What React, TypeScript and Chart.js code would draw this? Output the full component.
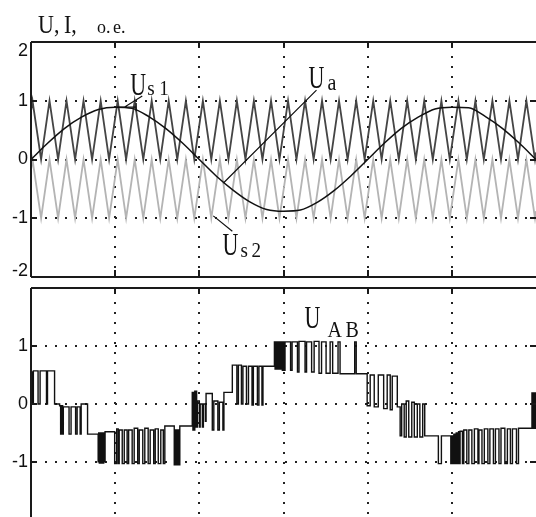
import React, { useEffect, useRef } from "react";
import { Chart, registerables } from "chart.js";

Chart.register(...registerables);

// ---------------- data (time in ms, values in o.e.) ----------------
const xGridTicks = [5, 10, 15, 20, 25];
const topYTicks = [2, 1, 0, -1, -2];
const topGridY = [1, 0, -1];
const bottomYTicks = [1, 0, -1];

// triangular carriers (vertex times, ms)
const carrierTimes = [0, 0.09, 0.60, 1.10, 1.61, 2.11, 2.62, 3.12, 3.63, 4.14, 4.64, 5.15, 5.65, 6.16, 6.67, 7.17, 7.68, 8.18, 8.69, 9.20, 9.70, 10.21, 10.71, 11.22, 11.73, 12.23, 12.74, 13.24, 13.75, 14.26, 14.76, 15.27, 15.77, 16.28, 16.79, 17.29, 17.80, 18.30, 18.81, 19.32, 19.82, 20.33, 20.83, 21.34, 21.85, 22.35, 22.86, 23.36, 23.87, 24.38, 24.88, 25.39, 25.89, 26.40, 26.90, 27.41, 27.92, 28.42, 28.93, 29.43, 29.94, 30];
const us1Values = [0.82, 1, 0, 1, 0, 1, 0, 1, 0, 1, 0, 1, 0, 1, 0, 1, 0, 1, 0, 1, 0, 1, 0, 1, 0, 1, 0, 1, 0, 1, 0, 1, 0, 1, 0, 1, 0, 1, 0, 1, 0, 1, 0, 1, 0, 1, 0, 1, 0, 1, 0, 1, 0, 1, 0, 1, 0, 1, 0, 1, 0, 0.12];
const us2Values = [-0.18, 0, -1, 0, -1, 0, -1, 0, -1, 0, -1, 0, -1, 0, -1, 0, -1, 0, -1, 0, -1, 0, -1, 0, -1, 0, -1, 0, -1, 0, -1, 0, -1, 0, -1, 0, -1, 0, -1, 0, -1, 0, -1, 0, -1, 0, -1, 0, -1, 0, -1, 0, -1, 0, -1, 0, -1, 0, -1, 0, -1, -0.88];

// reference voltage Ua
const uaTimes = [0, 1, 2, 3, 4, 5, 6, 7, 8, 9, 10, 11, 12, 13, 14, 15, 16, 17, 18, 19, 20, 21, 22, 23, 24, 25, 26, 27, 28, 29, 30];
const uaValues = [0, 0.28, 0.53, 0.72, 0.85, 0.89, 0.87, 0.73, 0.53, 0.28, 0.0, -0.28, -0.52, -0.72, -0.85, -0.88, -0.86, -0.73, -0.53, -0.28, 0.0, 0.28, 0.53, 0.72, 0.86, 0.89, 0.88, 0.73, 0.53, 0.28, 0.0];

// line voltage UAB (step breakpoints: value holds from time until next time)
const uabTimes = [
  0.00, 0.04, 0.07, 0.11, 0.14, 0.42, 0.54, 0.92, 0.98, 1.40,
  1.70, 1.76, 1.79, 1.82, 1.85, 1.88, 1.92, 2.26, 2.38, 2.65, 2.74, 2.92, 2.98, 3.36,
  3.99, 4.02, 4.06, 4.10, 4.13, 4.17, 4.20, 4.24, 4.27, 4.32, 4.36, 4.40,
  4.97, 5.09, 5.18, 5.24, 5.42, 5.54, 5.71, 5.80, 6.01, 6.13, 6.34, 6.43, 6.64, 6.76, 6.96, 7.08, 7.29, 7.38, 7.56, 7.71, 7.86, 7.95,
  8.51, 8.55, 8.58, 8.62, 8.65, 8.69, 8.73, 8.76, 8.80, 8.84,
  9.58, 9.62, 9.65, 9.69, 9.73, 9.76, 9.80, 9.84, 9.88, 10.00, 10.05, 10.18, 10.24, 10.36, 10.40, 10.77, 10.86, 11.10, 11.19, 11.40, 11.46,
  11.96, 12.23, 12.32, 12.50, 12.59, 12.80, 12.92, 13.13, 13.21, 13.45, 13.54, 13.72, 13.78,
  14.46, 14.50, 14.54, 14.57, 14.61, 14.64, 14.68, 14.71, 14.75, 14.79, 14.82, 14.86, 14.89, 14.93, 14.97, 15.01,
  15.09, 15.42, 15.51, 15.83, 15.92, 16.28, 16.37, 16.67, 16.82, 17.11, 17.26, 17.53, 17.77, 17.92, 18.24, 18.36, 19.23, 19.32,
  19.97, 20.15, 20.39, 20.63, 20.95, 21.16, 21.34, 21.46, 21.76,
  21.93, 22.02, 22.17, 22.29, 22.44, 22.62, 22.77, 22.95, 23.10, 23.27, 23.39, 24.20, 24.38,
  24.94, 24.98, 25.01, 25.05, 25.08, 25.12, 25.15, 25.19, 25.23, 25.26, 25.30, 25.33, 25.37, 25.40, 25.44, 25.49,
  25.63, 25.71, 25.89, 26.01, 26.19, 26.34, 26.55, 26.61, 26.79, 26.93, 27.14, 27.26, 27.47, 27.59, 27.80, 27.92, 28.15, 28.30, 28.48, 28.60, 28.84, 28.96,
  29.76, 29.80, 29.83, 29.87, 29.90, 29.94, 29.98, 30.00,
];
const uabValues = [
  0.55, 0, 0.55, 0, 0.57, 0, 0.57, 0, 0.57, 0,
  -0.03, -0.52, -0.03, -0.52, -0.03, -0.52, -0.05, -0.52, -0.05, -0.52, -0.05, -0.52, 0.0, -0.52,
  -1.0, -0.5, -1.02, -0.5, -1.02, -0.5, -1.02, -0.5, -1.02, -0.5, -1.0, -0.48,
  -1.03, -0.43, -1.03, -0.45, -1.03, -0.45, -1.03, -0.45, -1.03, -0.42, -1.03, -0.45, -1.03, -0.42, -1.03, -0.45, -1.03, -0.43, -1.03, -0.45, -1.03, -0.38,
  -1.05, -0.45, -1.05, -0.45, -1.05, -0.45, -1.05, -0.45, -1.05, -0.38,
  0.2, -0.45, 0.2, -0.45, 0.22, -0.4, 0.22, -0.4, 0.05, -0.4, 0.0, -0.4, 0.0, -0.3, 0.18, -0.45, 0.05, -0.45, 0.03, -0.45, 0.2,
  0.67, 0.0, 0.67, 0.0, 0.65, 0.0, 0.65, -0.02, 0.65, -0.02, 0.65, -0.02, 0.65,
  1.07, 0.6, 1.07, 0.6, 1.07, 0.6, 1.07, 0.6, 1.07, 0.6, 1.07, 0.6, 1.07, 0.58, 1.07, 0.58,
  1.07, 0.58, 1.07, 0.55, 1.08, 0.55, 1.07, 0.55, 1.08, 0.53, 1.07, 0.53, 1.07, 0.53, 1.07, 0.52, 1.07, 0.52,
  -0.03, 0.5, -0.05, 0.5, -0.08, 0.5, -0.1, 0.48, -0.05,
  -0.55, 0.0, -0.57, 0.05, -0.57, 0.03, -0.57, 0.0, -0.57, 0.0, -0.55, -1.03, -0.55,
  -1.03, -0.55, -1.03, -0.55, -1.03, -0.52, -1.03, -0.52, -1.03, -0.5, -1.03, -0.5, -1.03, -0.48, -1.03, -0.47,
  -1.03, -0.45, -1.03, -0.45, -1.03, -0.43, -1.03, -0.45, -1.03, -0.43, -1.03, -0.43, -1.03, -0.43, -1.03, -0.42, -1.03, -0.43, -1.03, -0.43, -1.03, -0.42,
  0.19, -0.42, 0.19, -0.42, 0.19, -0.42, 0.19, 0.19,
];

// ---------------- styling / annotation layout ----------------
const SERIF = '"Liberation Serif", "Times New Roman", serif';
const SANS = '"Liberation Sans", Arial, sans-serif';
const W = 536;
const TOP_H = 280;
const BOT_TOP = 280;
const BOT_H = 517 - 280;

type Piece = { text: string; dx: number; dy: number; size: number; sy: number };
type Note = { t: number; v: number; pieces: Piece[] };
type Seg = [number, number, number, number];

const BIG = 22;
const BIG_SY = 1.4;
const SUB = 19;
const SUB_SY = 1.12;

const topNotes: Note[] = [
  { t: 5.89, v: 1.1, pieces: [
    { text: "U", dx: 0, dy: 0, size: BIG, sy: BIG_SY },
    { text: "s", dx: 17, dy: 0, size: SUB, sy: SUB_SY },
    { text: "1", dx: 29, dy: 0, size: SUB, sy: SUB_SY },
  ] },
  { t: 16.49, v: 1.22, pieces: [
    { text: "U", dx: 0, dy: 0, size: BIG, sy: BIG_SY },
    { text: "a", dx: 19, dy: 2, size: 20, sy: SUB_SY },
  ] },
  { t: 11.37, v: -1.63, pieces: [
    { text: "U", dx: 0, dy: 0, size: BIG, sy: BIG_SY },
    { text: "s", dx: 18, dy: 2, size: SUB, sy: SUB_SY },
    { text: "2", dx: 29, dy: 2, size: SUB, sy: SUB_SY },
  ] },
];
const topLeaders: Seg[] = [
  [6.61, 1.08, 5.54, 0.89],
  [5.12, 0.89, 6.25, 0.89],
  [6.25, 0.96, 6.25, 0.82],
  [16.96, 1.18, 11.43, -0.4],
  [10.83, -0.96, 11.96, -1.22],
];
const bottomNotes: Note[] = [
  { t: 16.25, v: 1.31, pieces: [
    { text: "U", dx: 0, dy: 0, size: BIG, sy: BIG_SY },
    { text: "A", dx: 23, dy: 9, size: 20, sy: 1.15 },
    { text: "B", dx: 41, dy: 9, size: 20, sy: 1.15 },
  ] },
];
const titlePieces: Piece[] = [
  { text: "U,", dx: 38, dy: 33, size: 22, sy: 1.15 },
  { text: "I,", dx: 64, dy: 33, size: 22, sy: 1.15 },
  { text: "o.", dx: 97, dy: 33, size: 18, sy: 1.05 },
  { text: "e.", dx: 113, dy: 33, size: 18, sy: 1.05 },
];

function drawPieces(ctx: CanvasRenderingContext2D, x: number, y: number, pieces: Piece[]) {
  for (const p of pieces) {
    ctx.save();
    ctx.translate(x + p.dx, y + p.dy);
    ctx.scale(1, p.sy);
    ctx.font = `${p.size}px ${SERIF}`;
    ctx.fillStyle = "#111";
    ctx.textAlign = "left";
    ctx.textBaseline = "alphabetic";
    ctx.fillText(p.text, 0, 0);
    ctx.restore();
  }
}

type PanelCfg = {
  gridY: number[];
  labelY: number[];
  topTicksLen: number;
  bottomBorder: boolean;
  notes: Note[];
  leaders: Seg[];
  title: boolean;
};

function panelPlugin(cfg: PanelCfg) {
  return {
    id: "panelFrame",
    beforeDatasetsDraw(chart: any) {
      const { ctx, chartArea: a } = chart;
      const xs = chart.scales.x;
      const ys = chart.scales.y;
      ctx.save();
      ctx.strokeStyle = "#222";
      ctx.lineWidth = 2;
      ctx.setLineDash([2, 8]);
      for (const v of cfg.gridY) {
        const py = Math.round(ys.getPixelForValue(v));
        ctx.beginPath();
        ctx.moveTo(a.left + 4, py);
        ctx.lineTo(a.right, py);
        ctx.stroke();
      }
      for (const t of xGridTicks) {
        const px = Math.round(xs.getPixelForValue(t));
        ctx.beginPath();
        ctx.moveTo(px, a.top + 4);
        ctx.lineTo(px, a.bottom);
        ctx.stroke();
      }
      ctx.restore();
    },
    afterDatasetsDraw(chart: any) {
      const { ctx, chartArea: a } = chart;
      const xs = chart.scales.x;
      const ys = chart.scales.y;
      ctx.save();
      ctx.setLineDash([]);
      ctx.strokeStyle = "#1a1a1a";
      ctx.lineWidth = 2;
      const top = Math.round(a.top);
      const bot = Math.round(a.bottom);
      const left = Math.round(a.left);
      // frame
      ctx.beginPath();
      ctx.moveTo(left, top);
      ctx.lineTo(a.right, top);
      ctx.moveTo(left, top);
      ctx.lineTo(left, cfg.bottomBorder ? bot : chart.height);
      if (cfg.bottomBorder) {
        ctx.moveTo(left, bot);
        ctx.lineTo(a.right, bot);
      }
      ctx.stroke();
      // x tick marks
      ctx.beginPath();
      for (const t of xGridTicks) {
        const px = Math.round(xs.getPixelForValue(t));
        ctx.moveTo(px, top);
        ctx.lineTo(px, top + cfg.topTicksLen);
        if (cfg.bottomBorder) {
          ctx.moveTo(px, bot);
          ctx.lineTo(px, bot - 7);
        }
      }
      // y tick marks (left and right)
      for (const v of cfg.gridY) {
        const py = Math.round(ys.getPixelForValue(v));
        ctx.moveTo(left, py);
        ctx.lineTo(left + 6, py);
        ctx.moveTo(a.right, py);
        ctx.lineTo(a.right - 6, py);
      }
      ctx.stroke();

      // leaders
      ctx.lineWidth = 1.2;
      ctx.strokeStyle = "#111";
      ctx.beginPath();
      for (const [t1, v1, t2, v2] of cfg.leaders) {
        ctx.moveTo(xs.getPixelForValue(t1), ys.getPixelForValue(v1));
        ctx.lineTo(xs.getPixelForValue(t2), ys.getPixelForValue(v2));
      }
      ctx.stroke();

      // tick labels
      ctx.fillStyle = "#111";
      ctx.font = `18px ${SANS}`;
      ctx.textAlign = "right";
      ctx.textBaseline = "middle";
      for (const v of cfg.labelY) {
        let py = ys.getPixelForValue(v);
        py = Math.max(a.top + 9, Math.min(a.bottom - 6, py));
        ctx.fillText(String(v), left - 3, py);
      }

      // notes
      for (const n of cfg.notes) {
        drawPieces(ctx, xs.getPixelForValue(n.t), ys.getPixelForValue(n.v), n.pieces);
      }
      if (cfg.title) drawPieces(ctx, 0, 0, titlePieces);
      ctx.restore();
    },
  };
}

function pts(xs: number[], ys: number[]) {
  return xs.map((x, i) => ({ x, y: ys[i] }));
}

export default function App() {
  const topRef = useRef<HTMLCanvasElement | null>(null);
  const botRef = useRef<HTMLCanvasElement | null>(null);

  useEffect(() => {
    if (!topRef.current || !botRef.current) return;
    const common = {
      responsive: false,
      animation: false as const,
      events: [] as any[],
      plugins: { legend: { display: false }, tooltip: { enabled: false } },
    };
    const topChart = new Chart(topRef.current, {
      type: "line",
      data: {
        datasets: [
          {
            label: "Ua",
            data: pts(uaTimes, uaValues),
            borderColor: "#111",
            borderWidth: 1.5,
            pointRadius: 0,
            cubicInterpolationMode: "monotone",
            order: 0,
          },
          {
            label: "Us1",
            data: pts(carrierTimes, us1Values),
            borderColor: "#454545",
            borderWidth: 1.8,
            pointRadius: 0,
            tension: 0,
            order: 1,
          },
          {
            label: "Us2",
            data: pts(carrierTimes, us2Values),
            borderColor: "#b4b4b4",
            borderWidth: 1.8,
            pointRadius: 0,
            tension: 0,
            order: 2,
          },
        ],
      },
      options: {
        ...common,
        layout: { padding: { left: 31, top: 42, right: 0, bottom: TOP_H - 277 } },
        scales: {
          x: { type: "linear", min: 0, max: 30, display: false },
          y: { type: "linear", min: -2, max: 2, display: false },
        },
      },
      plugins: [
        panelPlugin({
          gridY: topGridY,
          labelY: topYTicks,
          topTicksLen: 5,
          bottomBorder: true,
          notes: topNotes,
          leaders: topLeaders,
          title: true,
        }),
      ],
    } as any);

    const botChart = new Chart(botRef.current, {
      type: "line",
      data: {
        datasets: [
          {
            label: "UAB",
            data: pts(uabTimes, uabValues),
            borderColor: "#111",
            borderWidth: 1.4,
            pointRadius: 0,
            stepped: true,
          },
        ],
      },
      options: {
        ...common,
        layout: { padding: { left: 31, top: 288 - BOT_TOP, right: 0, bottom: 0 } },
        scales: {
          x: { type: "linear", min: 0, max: 30, display: false },
          y: { type: "linear", min: -1.95, max: 2, display: false },
        },
      },
      plugins: [
        panelPlugin({
          gridY: bottomYTicks,
          labelY: bottomYTicks,
          topTicksLen: 6,
          bottomBorder: false,
          notes: bottomNotes,
          leaders: [],
          title: false,
        }),
      ],
    } as any);

    return () => {
      topChart.destroy();
      botChart.destroy();
    };
  }, []);

  return (
    <div style={{ position: "absolute", left: 0, top: 0, width: W, height: 517, background: "#fff", overflow: "hidden" }}>
      <canvas ref={topRef} width={W} height={TOP_H} style={{ position: "absolute", left: 0, top: 0, width: W, height: TOP_H }} />
      <canvas ref={botRef} width={W} height={BOT_H} style={{ position: "absolute", left: 0, top: BOT_TOP, width: W, height: BOT_H }} />
    </div>
  );
}
